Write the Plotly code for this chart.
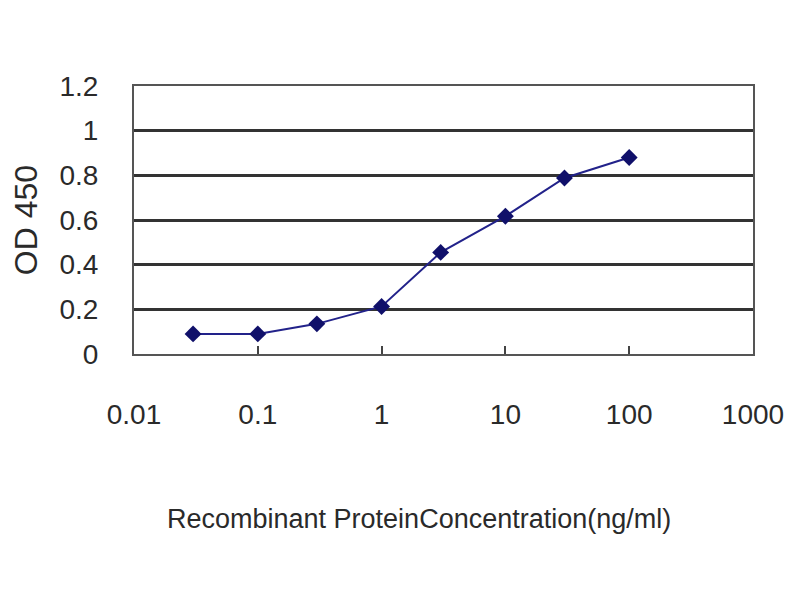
import plotly.graph_objects as go

# ELISA standard curve
concentration = [0.03, 0.1, 0.3, 1, 3, 10, 30, 100]
od450 = [0.09, 0.09, 0.135, 0.213, 0.455, 0.617, 0.788, 0.88]

x_ticks = [0.01, 0.1, 1, 10, 100, 1000]
x_tick_text = ["0.01", "0.1", "1", "10", "100", "1000"]
y_ticks = [0, 0.2, 0.4, 0.6, 0.8, 1, 1.2]
y_tick_text = ["0", "0.2", "0.4", "0.6", "0.8", "1", "1.2"]

fig = go.Figure()
fig.add_trace(go.Scatter(
    x=concentration, y=od450,
    mode="lines+markers",
    line=dict(color="#22228a", width=2),
    marker=dict(symbol="diamond", size=13, color="#10106a"),
    showlegend=False,
))

font = "Liberation Sans, Arial, sans-serif"
txt = "#2a2a2a"

fig.update_xaxes(
    type="log", range=[-2, 3],
    tickvals=x_ticks, ticktext=x_tick_text,
    showgrid=False, zeroline=False,
    showline=True, linecolor="#555555", linewidth=2, mirror=True,
    ticks="inside", ticklen=8, tickcolor="#444444", tickwidth=2,
    ticklabelstandoff=34,
    tickfont=dict(family=font, size=28, color=txt),
)
fig.update_yaxes(
    range=[0, 1.2],
    tickvals=y_ticks, ticktext=y_tick_text,
    showgrid=True, gridcolor="#333333", gridwidth=3,
    zeroline=False,
    showline=True, linecolor="#555555", linewidth=2, mirror=True,
    ticks="", ticklabelstandoff=28,
    tickfont=dict(family=font, size=28, color=txt),
    title=dict(text="OD 450", font=dict(family=font, size=32, color=txt), standoff=12),
)

# x axis title sits a little left of the plot centre in the original
fig.add_annotation(
    text="Recombinant ProteinConcentration(ng/ml)",
    xref="paper", yref="paper", x=0.46, y=-0.615,
    xanchor="center", yanchor="middle", showarrow=False,
    font=dict(family=font, size=27, color=txt),
)

fig.update_layout(
    width=800, height=600,
    margin=dict(l=126, r=55, t=78, b=254),
    plot_bgcolor="white", paper_bgcolor="white",
)

fig.write_html("out.html")
